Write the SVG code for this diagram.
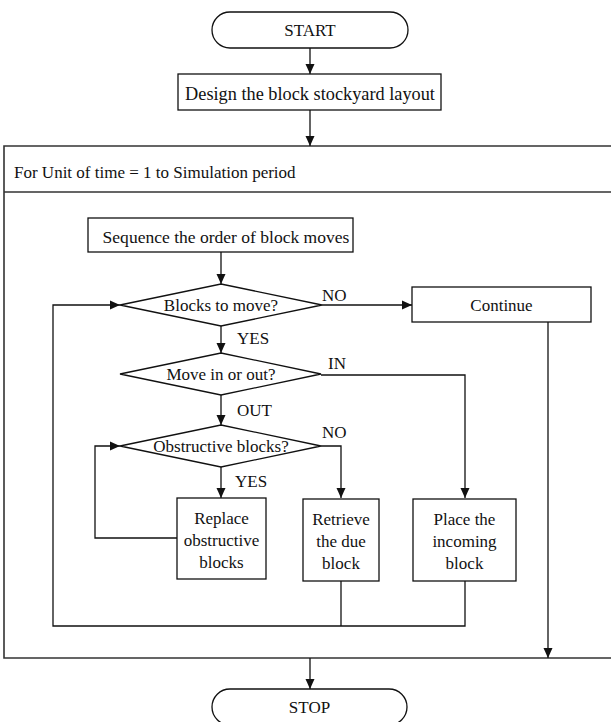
<svg xmlns="http://www.w3.org/2000/svg" width="611" height="722" viewBox="0 0 611 722">
<style>
.s{fill:#fff;stroke:#111;stroke-width:1.3}
.c{fill:none;stroke:#111;stroke-width:1.3}
.o{fill:none;stroke:#333;stroke-width:1.6}
text{font-size:17px;fill:#111}
.m{text-anchor:middle}
.big{font-size:18.3px}
.mid{font-size:17.55px}
</style>
<defs>
<marker id="a" viewBox="0 0 10 10" refX="10" refY="5" markerWidth="10" markerHeight="10" markerUnits="userSpaceOnUse" orient="auto">
<path d="M0,0.5 L10,5 L0,9.5 Z" fill="#111"/>
</marker>
</defs>
<rect width="611" height="722" fill="#fff"/>
<g font-family="'Liberation Serif', 'Times New Roman', 'DejaVu Serif', serif">
<g id="loop-frame">
<path class="o" d="M611,146 H4 V658 H611 M4,192 H611"/>
<text x="14" y="178">For Unit of time = 1 to Simulation period</text>
</g>
<g id="connectors">
<path class="c" d="M310,48 V74" marker-end="url(#a)"/>
<path class="c" d="M310,110 V146" marker-end="url(#a)"/>
<path class="c" d="M221,252 V284" marker-end="url(#a)"/>
<path class="c" d="M221,326 V353" marker-end="url(#a)"/>
<path class="c" d="M221,395 V425" marker-end="url(#a)"/>
<path class="c" d="M221,467 V498" marker-end="url(#a)"/>
<path class="c" d="M322,305 H412" marker-end="url(#a)"/>
<path class="c" d="M548,322 V658" marker-end="url(#a)"/>
<path class="c" d="M321,375 H465 V498" marker-end="url(#a)"/>
<path class="c" d="M321,446 H341 V498" marker-end="url(#a)"/>
<path class="c" d="M177,538 H95 V446 H120" marker-end="url(#a)"/>
<path class="c" d="M465,581 V626 H53 V305 H120" marker-end="url(#a)"/>
<path class="c" d="M341,581 V626"/>
<path class="c" d="M310,658 V689" marker-end="url(#a)"/>
<text x="322" y="301">NO</text>
<text x="237" y="344">YES</text>
<text x="328" y="369">IN</text>
<text x="237" y="416">OUT</text>
<text x="322" y="438">NO</text>
<text x="235" y="487">YES</text>
</g>
<g id="start">
<rect class="s" x="212" y="12" width="196" height="36" rx="18"/>
<text class="m" x="310" y="36">START</text>
</g>
<g id="design">
<rect class="s" x="178" y="74" width="263" height="36"/>
<text class="m big" x="310" y="100">Design the block stockyard layout</text>
</g>
<g id="sequence">
<rect class="s" x="88" y="218" width="265" height="34"/>
<text class="m mid" x="226" y="243">Sequence the order of block moves</text>
</g>
<g id="blocks-to-move">
<path class="s" d="M221,284 L322,305 L221,326 L120,305 Z"/>
<text class="m" x="221" y="311">Blocks to move?</text>
</g>
<g id="continue">
<rect class="s" x="412" y="287" width="179" height="35"/>
<text class="m" x="501.5" y="311">Continue</text>
</g>
<g id="move-in-out">
<path class="s" d="M221,353 L321,374 L221,395 L120,374 Z"/>
<text class="m" x="221" y="380">Move in or out?</text>
</g>
<g id="obstructive">
<path class="s" d="M221,425 L321,446 L221,467 L120,446 Z"/>
<text class="m" x="221" y="452">Obstructive blocks?</text>
</g>
<g id="replace">
<rect class="s" x="177" y="498" width="89" height="81"/>
<text class="m" x="221.5" y="524">Replace</text>
<text class="m" x="221.5" y="546">obstructive</text>
<text class="m" x="221.5" y="568">blocks</text>
</g>
<g id="retrieve">
<rect class="s" x="303" y="499" width="76" height="82"/>
<text class="m" x="341" y="525">Retrieve</text>
<text class="m" x="341" y="547">the due</text>
<text class="m" x="341" y="569">block</text>
</g>
<g id="place">
<rect class="s" x="413" y="499" width="103" height="82"/>
<text class="m" x="464.5" y="525">Place the</text>
<text class="m" x="464.5" y="547">incoming</text>
<text class="m" x="464.5" y="569">block</text>
</g>
<g id="stop">
<rect class="s" x="212" y="689" width="195" height="36" rx="18"/>
<text class="m" x="309.5" y="713">STOP</text>
</g>
</g>
</svg>
